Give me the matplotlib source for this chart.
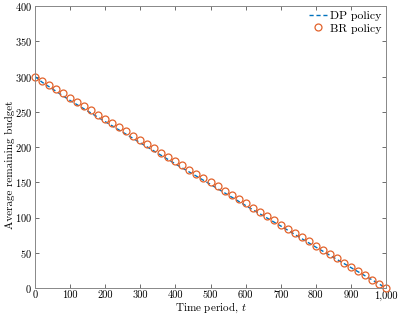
import numpy as np
import matplotlib
matplotlib.use('Agg')
import matplotlib.pyplot as plt
from matplotlib.ticker import FuncFormatter, MultipleLocator

# Data
t_dp = [0, 20, 100, 200, 300, 400, 500, 600, 700, 800, 900, 1000]
dp_budget = [300, 292, 266, 236, 206, 176, 147, 117, 88, 58, 29, 0]

t_br = list(range(0, 1001, 20))
br_budget = [300 * (1 - t / 1000) for t in t_br]

plt.rcParams['font.family'] = ['cmr10', 'DejaVu Serif']
plt.rcParams['mathtext.fontset'] = 'cm'
plt.rcParams['axes.formatter.use_mathtext'] = True

fig = plt.figure(figsize=(3.99, 3.15), dpi=100)
ax = fig.add_axes([35 / 399, 1 - 288 / 315, 351 / 399, 282 / 315])

ax.plot(t_dp, dp_budget, '--', color='#0072BD', lw=1.0, dashes=(3, 2),
        label='DP policy')
ax.plot(t_br, br_budget, 'o', color='#E2622B', mfc='none', ms=5, mew=0.9,
        label='BR policy', clip_on=False)

ax.set_xlim(0, 1000)
ax.set_ylim(0, 400)
ax.xaxis.set_major_locator(MultipleLocator(100))
ax.yaxis.set_major_locator(MultipleLocator(50))
ax.xaxis.set_major_formatter(FuncFormatter(lambda x, p: f'{x:,.0f}'))

ax.tick_params(direction='in', top=True, right=True, length=3, width=0.6,
               labelsize=7.5, color='#555555', pad=2)
for s in ax.spines.values():
    s.set_color('#888888')
    s.set_linewidth(0.7)

ax.set_xlabel('Time period, $t$', fontsize=8)
ax.set_ylabel('Average remaining budget', fontsize=8)
ax.xaxis.set_label_coords(0.5, -0.045)
ax.yaxis.set_label_coords(-0.057, 0.436)

ax.legend(loc='upper right', frameon=False, fontsize=8.5, handlelength=1.6,
          handletextpad=0.2, borderaxespad=0.2, labelspacing=0.2,
          borderpad=0.2)

fig.savefig('out.png', dpi=100)
